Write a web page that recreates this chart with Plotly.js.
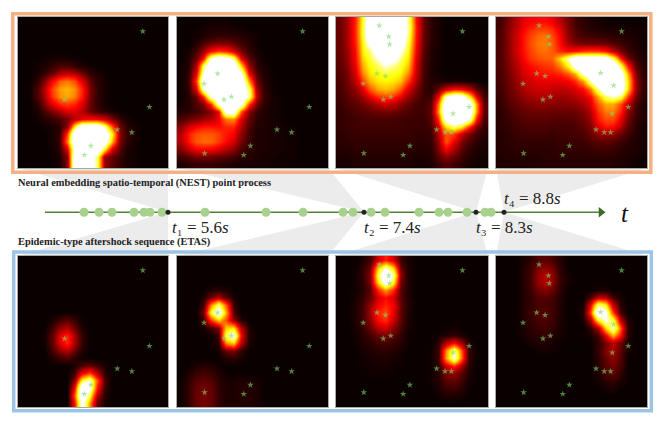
<!DOCTYPE html>
<html><head><meta charset="utf-8">
<script src="https://cdn.plot.ly/plotly-3.0.1.min.js"></script>
<style>html,body{margin:0;padding:0;background:#fff}#c{width:664px;height:425px}</style>
</head><body><div id="c"></div>
<script>
const titleTop = "Neural embedding spatio-temporal (NEST) point process";
const titleBottom = "Epidemic-type aftershock sequence (ETAS)";
const timelineDots = [84,99,112,134,144,150,162,205,266,303,343,353,371,385,419,439,448,467,485,491];
const queryMarks = [168,364,476,504];
const queryLabels = ["<i>t</i>₁ = 5.6<i>s</i>","<i>t</i>₂ = 7.4<i>s</i>","<i>t</i>₃ = 8.3<i>s</i>","<i>t</i>₄ = 8.8<i>s</i>"];
const eventX = [.832,.876,.662,.759,.486,.442,.311,.183,.269,.179,.360,.285,.347,.353,.325,.770,.717,.693,.779];
const eventY = [.095,.596,.746,.764,.854,.914,.547,.903,.375,.442,.528,.057,.130,.181,.391,.640,.764,.371,.453];
const eventsShown = [7,11,17,19];

const topT1 = [
[0],[0],[0],[0],[0],
[0,0,0,1,2,2,2,1],
[0,0,1,3,6,10,10,6,3,1],
[0,0,2,6,14,24,28,26,16,6,3,1],
[0,0,5,18,36,50,55,48,32,14,5,2],
[0,1,9,26,46,60,64,58,42,18,6,2],
[0,1,9,24,44,58,62,56,40,17,6,2],
[0,0,5,18,32,42,46,42,32,15,6,2],
[0,0,2,9,16,24,32,32,26,15,8,5,2],
[0,0,1,4,6,10,16,26,34,38,36,30,18,7,2],
[0,0,0,1,2,5,18,75,120,120,120,90,50,16,5,2],
[0,0,0,0,2,6,45,120,120,120,120,120,75,20,6,2],
[0,0,0,0,2,7,55,120,120,120,120,120,65,18,5,2],
[0,0,0,0,1,5,32,105,120,120,120,75,32,12,3,1],
[0,0,0,0,1,3,18,120,120,120,85,22,13,7,2,1],
[0,0,0,0,0,2,16,120,120,120,85,20,12,6,2,1]];
const topT2 = [
[0,0,0,0,1,1,1],
[0,0,1,2,3,3,3,2,1],
[0,0,1,3,5,6,6,5,4,3,1],
[0,0,4,10,16,18,18,14,8,4,1],
[0,2,8,22,38,45,42,30,16,6,2],
[0,3,14,40,100,120,110,90,35,12,4,1],
[1,4,24,85,120,120,120,120,70,22,6,2],
[1,5,32,100,120,120,120,120,105,35,10,3,1],
[1,6,45,120,120,120,120,120,120,58,16,4,1],
[1,5,32,100,120,120,120,120,120,85,24,6,2],
[1,4,14,45,100,120,120,120,120,90,28,7,2,1],
[2,4,10,18,45,100,120,120,105,45,16,5,2,1],
[4,5,8,12,18,35,110,115,50,18,7,3,2,1],
[10,14,18,22,26,34,55,58,32,14,5,3,2,1],
[20,30,36,40,40,38,42,42,26,10,4,3,2,2,1,1],
[26,40,48,50,50,46,40,36,20,8,3,3,2,2,1,1],
[26,40,50,53,52,46,38,30,16,7,3,3,2,2,1,1],
[18,28,36,38,36,32,26,20,10,5,3,3,2,2,1,1],
[8,12,16,16,15,13,11,8,5,4,3,2,2,1,1,1],
[3,5,6,6,6,5,4,3,2,2,2,2,1,1,1]];
const topT3 = [
[14,24,42,78,118,120,120,120,120,90,40,14,5,2],
[14,24,42,80,120,120,120,120,120,92,42,15,5,2],
[14,24,42,78,118,120,120,120,120,88,40,14,5,2],
[14,24,40,75,105,120,120,120,118,82,38,14,4,2],
[14,22,38,72,88,115,120,120,100,76,36,12,4,1],
[13,21,36,68,80,98,118,108,88,72,32,11,3,1],
[12,19,34,62,76,84,96,88,80,66,30,10,3,1],
[11,17,30,56,72,77,80,78,74,58,28,9,3,1],
[10,16,26,46,64,72,74,72,66,46,24,8,4,3,2,2,2,1],
[9,14,20,32,50,62,66,62,50,32,18,7,4,14,30,38,36,28,12,4],
[8,12,16,22,34,44,48,44,34,22,13,7,8,36,95,115,110,76,32,8],
[7,10,12,16,20,26,30,26,20,14,9,7,12,55,120,120,120,118,58,12],
[6,8,10,11,13,15,16,15,12,10,8,8,14,62,120,120,120,120,58,12],
[6,7,8,9,9,9,9,9,8,8,7,7,12,45,110,120,120,100,40,10],
[6,7,8,8,8,8,8,8,8,7,7,7,9,32,72,88,75,45,18,6],
[5,6,7,7,7,7,7,7,7,7,6,6,7,26,50,45,28,16,8,4],
[5,5,6,6,6,6,6,6,6,6,5,5,6,22,50,34,18,10,5,3],
[4,4,5,5,5,5,5,5,5,5,4,4,5,18,36,24,12,6,3,2],
[3,3,4,4,4,4,4,4,4,4,3,3,4,12,20,14,8,4,2,1],
[2,2,3,3,3,3,3,3,3,3,2,2,3,7,11,8,5,2,1,1]];
const topT4 = [
[8,16,24,32,36,38,38,34,26,16,8,5,3,2,1],
[9,18,26,35,42,46,46,42,32,18,10,6,4,3,2,2,2,2,1,1],
[10,18,28,38,46,52,54,48,36,20,12,9,8,7,6,5,4,3,2,1],
[10,18,28,38,48,54,56,50,38,24,18,16,16,16,14,11,8,5,3,2],
[10,18,28,38,46,52,54,50,42,38,40,44,46,45,40,28,16,8,4,2],
[10,18,26,36,44,48,50,52,70,95,120,120,120,120,115,85,42,16,7,3],
[10,16,24,32,38,42,44,46,56,75,110,120,120,120,120,120,85,40,12,4],
[9,15,22,30,34,38,40,40,42,50,65,100,120,120,120,120,115,60,18,5],
[9,14,20,27,30,33,34,34,34,36,44,60,95,120,120,120,120,70,22,6],
[8,13,18,24,27,29,29,28,27,28,32,38,55,90,120,120,120,68,22,6],
[7,12,16,20,23,25,25,24,22,23,26,30,38,62,85,95,85,45,16,5],
[6,10,13,16,18,20,20,19,18,19,20,24,32,50,62,62,48,26,10,3],
[5,8,11,13,14,15,15,14,14,14,15,18,26,44,55,55,42,20,8,3],
[5,7,9,11,12,12,12,11,11,11,12,15,22,40,48,48,34,16,6,3],
[5,6,8,9,10,10,10,9,9,9,10,13,18,32,40,38,26,12,5,2],
[4,5,7,8,8,8,8,7,8,8,9,10,14,20,22,20,14,8,4,2],
[4,5,6,6,6,6,6,6,7,7,7,8,10,12,12,11,8,5,3,2],
[4,4,5,5,5,5,5,5,6,6,6,6,7,8,8,7,5,4,3,2],
[3,4,4,4,4,4,5,5,5,5,5,5,5,5,5,5,4,3,2,1],
[3,3,3,3,3,4,4,4,4,4,4,4,4,4,4,3,3,2,1,1]];
const botT1 = [
[0],[0],[0],[0],[0],[0],[0],[0],
[0,0,0,0,2,8,12,6,1],
[0,0,0,0,8,20,26,14,3],
[0,0,0,1,12,32,42,24,6],
[0,0,0,1,12,32,42,24,6],
[0,0,0,0,8,20,26,14,3],
[0,0,0,0,3,7,10,5,1],
[0,0,0,0,0,0,0,2,10,14,8,2],
[0,0,0,0,0,0,0,8,34,46,26,5],
[0,0,0,0,0,0,0,18,80,100,50,10],
[0,0,0,0,0,0,0,38,120,105,40,7],
[0,0,0,0,0,0,0,50,120,80,25,4],
[0,0,0,0,0,0,0,40,105,60,14,2]];
const botT2 = [
[0],[0],[0],[0],
[0,0,0,0,3,4,3],
[0,0,0,3,16,26,12,2],
[0,0,0,8,58,88,50,6],
[0,0,0,16,80,115,62,10],
[0,0,0,8,46,68,48,20,4],
[0,0,0,2,8,18,68,72,26,3],
[0,0,0,0,1,8,85,110,36,4],
[0,0,0,0,1,5,58,68,26,3],
[0,0,0,0,0,2,14,18,6],
[0,0,0,0,0,0,4,5,2],
[0,0,3,4,3,1],
[0,3,7,9,7,3,1],
[1,5,11,13,11,5,2,2,3,3,2],
[1,6,13,16,13,6,3,3,4,4,3],
[1,6,14,17,14,6,3,3,4,4,3],
[1,6,13,16,13,6,3,3,3,3,2]];
const botT3 = [
[0,0,0,3,8,30,42,30,8,2],
[0,0,0,5,14,66,95,68,14,3],
[0,0,1,6,18,82,125,92,20,3],
[0,0,1,5,16,70,112,78,16,3],
[0,0,1,5,12,42,60,44,12,3],
[0,0,2,6,14,30,38,30,12,3],
[0,0,3,8,20,36,42,36,14,4],
[0,0,3,9,22,42,48,34,13,3],
[0,0,3,8,20,38,44,30,12,3],
[0,0,2,6,14,26,30,20,9,2,0,0,0,0,1,2],
[0,0,1,4,8,14,16,12,6,1,0,0,0,1,4,6,3],
[0,0,1,3,5,8,9,7,4,1,0,0,0,5,26,38,22,3],
[0,0,0,2,3,5,5,4,2,0,0,0,1,8,58,92,50,6],
[0,0,0,1,2,3,3,2,1,0,0,0,1,8,60,98,52,6],
[0,0,0,1,1,2,2,1,1,0,0,0,1,5,30,44,24,4],
[0,0,0,0,1,1,1,1,0,0,0,0,1,4,16,20,12,3],
[0,0,0,0,0,0,0,0,0,0,0,0,2,4,12,14,8,2],
[0,0,0,0,0,0,0,0,0,0,0,0,0,3,7,8,5],
[0,0,0,0,0,0,0,0,0,0,0,0,0,1,3,3,2],
[0]];
const botT4 = [
[0,0,0,2,5,10,12,9,4],
[0,0,0,3,7,16,20,15,5],
[0,0,0,3,8,20,26,20,6,2],
[0,0,0,3,8,20,26,20,6,2],
[0,0,0,3,7,15,18,14,5,0,0,0,0,2,2],
[0,0,0,3,6,10,11,9,4,0,0,0,10,28,26,8,2],
[0,0,0,3,6,9,10,8,3,0,0,2,36,88,76,28,4],
[0,0,0,3,7,10,11,8,3,0,0,4,48,120,105,45,8],
[0,0,0,3,6,9,10,7,3,0,0,2,24,75,100,80,26,3],
[0,0,0,2,5,7,8,6,2,0,0,0,6,24,68,95,50,5],
[0,0,0,2,4,5,6,4,2,0,0,0,2,8,32,62,38,4],
[0,0,0,0,2,3,3,2,0,0,0,0,0,6,16,26,15,2],
[0,0,0,0,0,1,2,1,0,0,0,0,0,6,18,24,12,2],
[0,0,0,0,0,0,0,0,0,0,0,0,0,5,14,20,11],
[0,0,0,0,0,0,0,0,0,0,0,0,0,4,12,16,9],
[0,0,0,0,0,0,0,0,0,0,0,0,0,3,9,12,6],
[0,0,0,0,0,0,0,0,0,0,0,0,0,2,5,7,3],
[0,0,0,0,0,0,0,0,0,0,0,0,0,0,2,3],
[0],[0]];

const W=664,H=425;
const panelX=[[18,168],[177,328],[336,488],[496,647]];
const topY=[17,168], botY=[256,407];
const hot=[[0,'#0a0000'],[.37,'#ff0000'],[.75,'#ffff00'],[1,'#ffffff']];
const pad=g=>g.map(r=>r.concat(Array(20-r.length).fill(0)));
const grids=[topT1,topT2,topT3,topT4,botT1,botT2,botT3,botT4];

const traces=[], layout={
  width:W,height:H,margin:{l:0,r:0,t:0,b:0},paper_bgcolor:'#fff',plot_bgcolor:'rgba(0,0,0,0)',showlegend:false,
  xaxis:{domain:[0,1],range:[0,W],visible:false,fixedrange:true},
  yaxis:{domain:[0,1],range:[H,0],visible:false,fixedrange:true},
  shapes:[],annotations:[]
};
grids.forEach((g,i)=>{
  const n=i+2, xn='x'+n, yn='y'+n, col=i%4, py=i<4?topY:botY;
  const ax={showgrid:false,zeroline:false,ticks:'',showticklabels:false,showline:true,mirror:true,linecolor:'#a8a8a8',linewidth:1,fixedrange:true};
  layout['xaxis'+n]=Object.assign({},ax,{domain:[panelX[col][0]/W,panelX[col][1]/W],range:[0,20],anchor:yn});
  layout['yaxis'+n]=Object.assign({},ax,{domain:[1-py[1]/H,1-py[0]/H],range:[20,0],anchor:xn});
  traces.push({type:'heatmap',z:pad(g),x0:.5,dx:1,y0:.5,dy:1,xaxis:xn,yaxis:yn,zmin:0,zmax:100,zsmooth:'best',colorscale:hot,showscale:false,hoverinfo:'skip'});
  const k=eventsShown[col];
  traces.push({type:'scatter',mode:'markers',xaxis:xn,yaxis:yn,x:eventX.slice(0,k).map(v=>v*20),y:eventY.slice(0,k).map(v=>v*20),
    marker:{symbol:'star',size:5,color:'rgba(130,215,110,0.6)',line:{width:0}},hoverinfo:'skip'});
});
queryMarks.forEach((m,i)=>{
  const [a,b]=panelX[i];
  [topY[1],botY[0]].forEach(y=>layout.shapes.push({type:'path',xref:'x',yref:'y',layer:'below',
    path:`M${a},${y}L${b},${y}L${m},212Z`,fillcolor:'#ececec',line:{width:0}}));
});
layout.shapes.push({type:'rect',xref:'x',yref:'y',x0:12.8,x1:650.8,y0:13.7,y1:172.2,line:{color:'#f4b183',width:3.5},layer:'above'});
layout.shapes.push({type:'rect',xref:'x',yref:'y',x0:13.7,x1:651.3,y0:252,y1:410.7,line:{color:'#9dc3e6',width:3.5},layer:'above'});
traces.push({type:'scatter',mode:'lines',x:[45,600],y:[212.3,212.3],line:{color:'#548235',width:1.6},hoverinfo:'skip'});
traces.push({type:'scatter',mode:'markers',x:[601],y:[212.3],marker:{symbol:'triangle-right',size:9,color:'#3f6b26'},hoverinfo:'skip'});
traces.push({type:'scatter',mode:'markers',x:timelineDots,y:timelineDots.map(()=>212.3),marker:{size:9,color:'#a9d18e',line:{width:0}},hoverinfo:'skip'});
traces.push({type:'scatter',mode:'markers',x:queryMarks,y:queryMarks.map(()=>212.3),marker:{size:5,color:'#222',line:{width:0}},hoverinfo:'skip'});
const labelPos=[[172,227],[364,227],[476,227],[504,198.5]];
queryLabels.forEach((t,i)=>layout.annotations.push({xref:'x',yref:'y',x:labelPos[i][0],y:labelPos[i][1],text:t,showarrow:false,xanchor:'left',yanchor:'middle',xshift:-2,
  font:{family:'"Liberation Serif",serif',size:17,color:'#222'}}));
layout.annotations.push({xref:'x',yref:'y',x:625,y:213,text:'<i>t</i>',showarrow:false,font:{family:'"Liberation Serif",serif',size:25,color:'#111'}});
[[titleTop,183],[titleBottom,242]].forEach(([t,y])=>layout.annotations.push({xref:'x',yref:'y',x:18,y:y,text:'<b>'+t+'</b>',showarrow:false,xanchor:'left',yanchor:'middle',xshift:-2,
  font:{family:'"Liberation Serif",serif',size:10.4,color:'#222'}}));
Plotly.newPlot('c',traces,layout,{displayModeBar:false,staticPlot:true});
</script></body></html>
